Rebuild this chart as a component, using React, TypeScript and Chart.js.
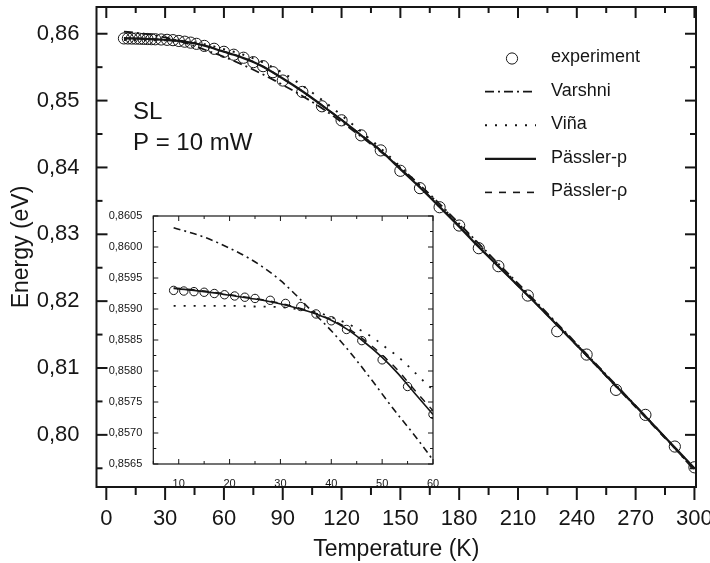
import React, { useEffect, useRef } from 'react';
import { Chart, registerables } from 'chart.js';

Chart.register(...registerables);

const FONT = "'Liberation Sans', Arial, Helvetica, sans-serif";
const INK = '#161616';

// ---------- data ----------
const EXP_T = [9, 11, 13, 15, 17, 19, 21, 23, 25, 28, 31, 34, 37, 40, 43, 46, 50, 55, 60, 65, 70, 75, 80, 85, 90, 100, 110, 120, 130, 140, 150, 160, 170, 180, 190, 200, 215, 230, 245, 260, 275, 290, 300];
const EXP_E = [0.8593, 0.85929, 0.85928, 0.85927, 0.85925, 0.85923, 0.85921, 0.85919, 0.85917, 0.85914, 0.85909, 0.85904, 0.85892, 0.85881, 0.85867, 0.85849, 0.85818, 0.85775, 0.8573, 0.85686, 0.85641, 0.85575, 0.85515, 0.85425, 0.853, 0.8513, 0.84915, 0.84705, 0.8448, 0.84255, 0.8395, 0.8369, 0.83405, 0.83131, 0.82792, 0.82523, 0.82084, 0.8155, 0.81201, 0.80673, 0.80299, 0.79825, 0.79515];

const VARSHNI_T = [9, 15, 20, 24, 27, 30, 33, 36, 40, 44, 48, 52, 56, 60, 70, 80, 90, 100, 110, 120, 130, 140, 150, 160, 170, 180, 190, 200, 210, 220, 230, 240, 250, 260, 270, 280, 290, 300];
const VARSHNI_E = [0.86031, 0.86016, 0.85998, 0.85981, 0.85965, 0.85946, 0.85923, 0.85898, 0.85865, 0.85827, 0.85785, 0.85741, 0.857, 0.85656, 0.8553, 0.8539, 0.85235, 0.8507, 0.84885, 0.8468, 0.8446, 0.84235, 0.83995, 0.83735, 0.83455, 0.8316, 0.8286, 0.8256, 0.82265, 0.81965, 0.81665, 0.8136, 0.81055, 0.80745, 0.80435, 0.8012, 0.798, 0.7947];

const VINA_T = [9, 15, 20, 25, 30, 33, 37, 40, 43, 45, 47, 49, 51, 53, 55, 57, 59, 60, 70, 80, 90, 100, 110, 120, 130, 140, 150, 160, 170, 180, 190, 200, 210, 220, 230, 240, 250, 260, 270, 280, 290, 300];
const VINA_E = [0.85905, 0.85905, 0.85905, 0.85904, 0.85903, 0.859, 0.85895, 0.85887, 0.85877, 0.85869, 0.8586, 0.85849, 0.85836, 0.85824, 0.85809, 0.85793, 0.85777, 0.8577, 0.85685, 0.8557, 0.85415, 0.85225, 0.8501, 0.8478, 0.84535, 0.84285, 0.8401, 0.8373, 0.8344, 0.83145, 0.82845, 0.82545, 0.82245, 0.8195, 0.8165, 0.81345, 0.8104, 0.80735, 0.8043, 0.8012, 0.79805, 0.7949];

const PASSLER_T = [9, 13, 17, 21, 25, 29, 33, 37, 40, 43, 46, 50, 53, 56, 60, 65, 70, 75, 80, 90, 100, 110, 120, 130, 140, 150, 160, 170, 180, 190, 200, 210, 220, 230, 240, 250, 260, 270, 280, 290, 300];
const PASSLER_P_E = [0.85933, 0.8593, 0.85926, 0.85921, 0.85916, 0.8591, 0.85902, 0.85892, 0.85882, 0.85868, 0.8585, 0.85822, 0.85797, 0.85768, 0.8573, 0.85685, 0.85635, 0.85577, 0.85505, 0.8533, 0.8514, 0.8493, 0.8471, 0.8448, 0.8425, 0.83975, 0.837, 0.8341, 0.83115, 0.8281, 0.8252, 0.8223, 0.8194, 0.8164, 0.8134, 0.8104, 0.8073, 0.8043, 0.8012, 0.7981, 0.795];
const PASSLER_RHO_E = [0.85934, 0.85931, 0.85927, 0.85922, 0.85917, 0.85911, 0.85903, 0.85893, 0.85883, 0.8587, 0.85853, 0.85826, 0.85802, 0.85773, 0.85736, 0.8569, 0.8564, 0.8558, 0.8551, 0.8533, 0.8514, 0.8493, 0.8471, 0.84485, 0.84255, 0.83985, 0.8371, 0.8342, 0.83125, 0.8282, 0.82525, 0.8223, 0.8194, 0.8164, 0.81335, 0.8103, 0.8072, 0.80415, 0.80105, 0.79795, 0.79485];

const X_TICKS = [0, 30, 60, 90, 120, 150, 180, 210, 240, 270, 300];
const X_MINOR = [15, 45, 75, 105, 135, 165, 195, 225, 255, 285];
const Y_TICKS = [0.8, 0.81, 0.82, 0.83, 0.84, 0.85, 0.86];
const Y_MINOR = [0.795, 0.805, 0.815, 0.825, 0.835, 0.845, 0.855];

const INSET_X_TICKS = [10, 20, 30, 40, 50, 60];
const INSET_X_MINOR = [5, 15, 25, 35, 45, 55];
const INSET_Y_TICKS = [0.8565, 0.857, 0.8575, 0.858, 0.8585, 0.859, 0.8595, 0.86, 0.8605];
const INSET_Y_MINOR = [0.85675, 0.85725, 0.85775, 0.85825, 0.85875, 0.85925, 0.85975, 0.86025];

const LEGEND_LABELS = ['experiment', 'Varshni', 'Viña', 'Pässler-p', 'Pässler-ρ'];
const NOTE_LINES = ['SL', 'P = 10 mW'];
const X_TITLE = 'Temperature (K)';
const Y_TITLE = 'Energy (eV)';

const pts = (xs: number[], ys: number[]) => xs.map((x, i) => ({ x, y: ys[i] }));

function makeDatasets(inset: boolean) {
  const curve = (label: string, t: number[], e: number[], width: number, dash: number[]) => ({
    label,
    data: pts(t, e),
    showLine: true,
    borderColor: INK,
    borderWidth: width,
    borderDash: dash,
    pointRadius: 0,
    pointHoverRadius: 0,
    cubicInterpolationMode: 'monotone',
    fill: false,
  });
  return [
    curve('Varshni', VARSHNI_T, VARSHNI_E, inset ? 1.6 : 1.8, inset ? [7, 4, 2, 4] : [9, 4, 2, 4]),
    curve('Viña', VINA_T, VINA_E, inset ? 1.8 : 2, [2, 8]),
    curve('Pässler-p', PASSLER_T, PASSLER_P_E, inset ? 1.6 : 2.2, []),
    curve('Pässler-ρ', PASSLER_T, PASSLER_RHO_E, inset ? 1.4 : 1.6, [7, 7]),
    {
      label: 'experiment',
      data: pts(EXP_T, EXP_E),
      showLine: false,
      pointStyle: 'circle',
      pointRadius: inset ? 4.2 : 5.6,
      pointHoverRadius: inset ? 4.2 : 5.6,
      pointBorderColor: INK,
      pointBackgroundColor: 'rgba(0,0,0,0)',
      pointBorderWidth: 1,
    },
  ];
}

function line(ctx: CanvasRenderingContext2D, x1: number, y1: number, x2: number, y2: number) {
  ctx.beginPath();
  ctx.moveTo(x1, y1);
  ctx.lineTo(x2, y2);
  ctx.stroke();
}

const mainFrame = {
  id: 'mainFrame',
  afterDraw(chart: any) {
    const { ctx, chartArea: a, scales } = chart;
    const xs = scales.x;
    const ys = scales.y;
    ctx.save();
    ctx.strokeStyle = INK;
    ctx.lineWidth = 2;
    ctx.setLineDash([]);
    ctx.strokeRect(a.left, a.top, a.right - a.left, a.bottom - a.top);
    X_TICKS.forEach((v) => {
      const p = xs.getPixelForValue(v);
      line(ctx, p, a.bottom, p, a.bottom + 13);
      line(ctx, p, a.top, p, a.top + 11);
    });
    X_MINOR.forEach((v) => {
      const p = xs.getPixelForValue(v);
      line(ctx, p, a.bottom, p, a.bottom + 8);
      line(ctx, p, a.top, p, a.top + 6);
    });
    Y_TICKS.forEach((v) => {
      const p = ys.getPixelForValue(v);
      line(ctx, a.left, p, a.left + 11, p);
      line(ctx, a.right, p, a.right - 11, p);
    });
    Y_MINOR.forEach((v) => {
      const p = ys.getPixelForValue(v);
      line(ctx, a.left, p, a.left + 6, p);
      line(ctx, a.right, p, a.right - 6, p);
    });

    // legend
    const datasets = chart.data.datasets;
    ctx.fillStyle = INK;
    ctx.font = `18px ${FONT}`;
    ctx.textBaseline = 'middle';
    ctx.textAlign = 'left';
    LEGEND_LABELS.forEach((label, i) => {
      const y = 57 + i * 33.6;
      const ds = datasets.find((d: any) => d.label === label);
      if (!ds) return;
      if (ds.showLine === false) {
        ctx.setLineDash([]);
        ctx.lineWidth = 1;
        ctx.beginPath();
        ctx.arc(512, y + 1.5, ds.pointRadius, 0, Math.PI * 2);
        ctx.stroke();
      } else {
        ctx.lineWidth = ds.borderWidth;
        ctx.setLineDash(ds.borderDash || []);
        line(ctx, 485, y + 1, 536, y + 1);
      }
      ctx.setLineDash([]);
      ctx.fillText(label, 551, y);
    });

    ctx.font = `24px ${FONT}`;
    NOTE_LINES.forEach((txt, i) => {
      ctx.fillText(txt, 133, 112 + i * 31);
    });
    ctx.restore();
  },
};

const insetFrame = {
  id: 'insetFrame',
  beforeDatasetsDraw(chart: any) {
    const { ctx, chartArea: a } = chart;
    ctx.save();
    ctx.fillStyle = '#ffffff';
    ctx.fillRect(a.left, a.top, a.right - a.left, a.bottom - a.top);
    ctx.restore();
  },
  afterDraw(chart: any) {
    const { ctx, chartArea: a, scales } = chart;
    const xs = scales.x;
    const ys = scales.y;
    ctx.save();
    ctx.strokeStyle = INK;
    ctx.lineWidth = 1.2;
    ctx.setLineDash([]);
    ctx.strokeRect(a.left, a.top, a.right - a.left, a.bottom - a.top);
    ctx.lineWidth = 1;
    INSET_X_TICKS.forEach((v) => {
      const p = xs.getPixelForValue(v);
      line(ctx, p, a.bottom, p, a.bottom - 5);
      line(ctx, p, a.top, p, a.top + 5);
    });
    INSET_X_MINOR.forEach((v) => {
      const p = xs.getPixelForValue(v);
      line(ctx, p, a.bottom, p, a.bottom - 3);
      line(ctx, p, a.top, p, a.top + 3);
    });
    INSET_Y_TICKS.forEach((v) => {
      const p = ys.getPixelForValue(v);
      line(ctx, a.left, p, a.left + 5, p);
      line(ctx, a.right, p, a.right - 5, p);
    });
    INSET_Y_MINOR.forEach((v) => {
      const p = ys.getPixelForValue(v);
      line(ctx, a.left, p, a.left + 3, p);
      line(ctx, a.right, p, a.right - 3, p);
    });
    ctx.restore();
  },
};

function noPad(s: any) {
  s.paddingLeft = 0;
  s.paddingRight = 0;
  s.paddingTop = 0;
  s.paddingBottom = 0;
}

export default function App() {
  const mainRef = useRef<HTMLCanvasElement | null>(null);
  const insetRef = useRef<HTMLCanvasElement | null>(null);

  useEffect(() => {
    if (!mainRef.current || !insetRef.current) return;
    const main = new Chart(mainRef.current, {
      type: 'scatter',
      data: { datasets: makeDatasets(false) as any },
      options: {
        animation: false,
        responsive: false,
        maintainAspectRatio: false,
        events: [],
        layout: { padding: { top: 7, right: 14, left: 0, bottom: 0 } },
        plugins: { legend: { display: false }, tooltip: { enabled: false } },
        scales: {
          x: {
            type: 'linear',
            min: -5,
            max: 300.8,
            grid: { display: false },
            border: { display: false },
            afterBuildTicks: (s: any) => {
              s.ticks = X_TICKS.map((v) => ({ value: v }));
            },
            afterFit: (s: any) => {
              s.height = 76;
              noPad(s);
            },
            ticks: {
              autoSkip: false,
              maxRotation: 0,
              padding: 11,
              color: INK,
              font: { family: FONT, size: 22 },
              callback: (v: any) => String(v),
            },
            title: {
              display: true,
              text: X_TITLE,
              color: INK,
              font: { family: FONT, size: 23 },
              padding: { top: 0, bottom: 0 },
            },
          },
          y: {
            type: 'linear',
            min: 0.7922,
            max: 0.864,
            grid: { display: false },
            border: { display: false },
            afterBuildTicks: (s: any) => {
              s.ticks = Y_TICKS.map((v) => ({ value: v }));
            },
            afterFit: (s: any) => {
              s.width = 96.5;
              noPad(s);
            },
            ticks: {
              autoSkip: false,
              padding: 9,
              color: INK,
              font: { family: FONT, size: 22 },
              callback: (v: any) => Number(v).toFixed(2).replace('.', ','),
            },
            title: {
              display: true,
              text: Y_TITLE,
              color: INK,
              font: { family: FONT, size: 23 },
              padding: { top: 8, bottom: 0 },
            },
          },
        },
      } as any,
      plugins: [mainFrame],
    });

    const inset = new Chart(insetRef.current, {
      type: 'scatter',
      data: { datasets: makeDatasets(true) as any },
      options: {
        animation: false,
        responsive: false,
        maintainAspectRatio: false,
        events: [],
        layout: { padding: { top: 16, right: 12, left: 0, bottom: 0 } },
        plugins: { legend: { display: false }, tooltip: { enabled: false } },
        scales: {
          x: {
            type: 'linear',
            min: 5,
            max: 60,
            grid: { display: false },
            border: { display: false },
            afterBuildTicks: (s: any) => {
              s.ticks = INSET_X_TICKS.map((v) => ({ value: v }));
            },
            afterFit: (s: any) => {
              s.height = 36;
              noPad(s);
            },
            ticks: {
              autoSkip: false,
              maxRotation: 0,
              padding: 5,
              color: INK,
              font: { family: FONT, size: 11 },
              callback: (v: any) => String(v),
            },
          },
          y: {
            type: 'linear',
            min: 0.8565,
            max: 0.8605,
            grid: { display: false },
            border: { display: false },
            afterBuildTicks: (s: any) => {
              s.ticks = INSET_Y_TICKS.map((v) => ({ value: v }));
            },
            afterFit: (s: any) => {
              s.width = 53.3;
              noPad(s);
            },
            ticks: {
              autoSkip: false,
              padding: 3,
              color: INK,
              font: { family: FONT, size: 11 },
              callback: (v: any) => Number(v).toFixed(4).replace('.', ','),
            },
          },
        },
      } as any,
      plugins: [insetFrame],
    });

    return () => {
      main.destroy();
      inset.destroy();
    };
  }, []);

  return (
    <div style={{ position: 'fixed', left: 0, top: 0, width: 710, height: 563, background: '#fff' }}>
      <canvas ref={mainRef} width={710} height={563} style={{ position: 'absolute', left: 0, top: 0, width: 710, height: 563 }} />
      <canvas ref={insetRef} width={345} height={300} style={{ position: 'absolute', left: 100, top: 200, width: 345, height: 300 }} />
    </div>
  );
}
